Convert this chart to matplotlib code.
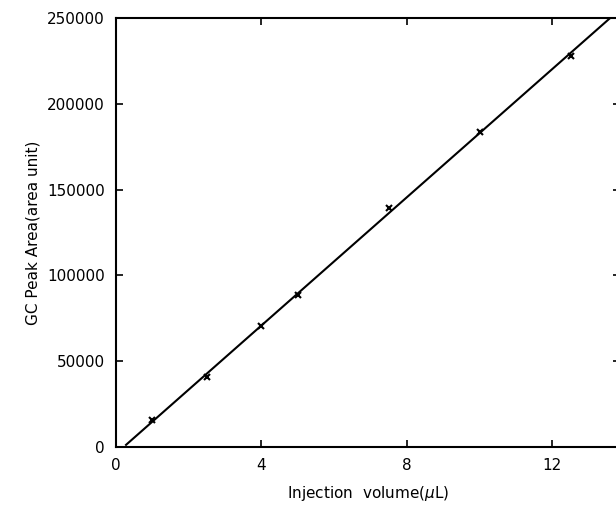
import matplotlib.pyplot as plt
import numpy as np

# injection volume (uL) and GC peak area
volume = [1.0, 2.5, 4.0, 5.0, 7.5, 10.0, 12.5]
peak_area = [15500, 41000, 70500, 88500, 139500, 183500, 228000]

x_ticks = [0, 4, 8, 12]
y_ticks = [0, 50000, 100000, 150000, 200000, 250000]

# least squares calibration line
slope, intercept = np.polyfit(volume, peak_area, 1)
x_fit = np.linspace(0, 14, 200)
y_fit = slope * x_fit + intercept
keep = y_fit >= 0

fig = plt.figure(figsize=(6.16, 5.15), dpi=100)
ax = fig.add_axes([0.188, 0.132, 0.818, 0.833])

ax.plot(x_fit[keep], y_fit[keep], color='k', linewidth=1.5)
ax.plot(volume, peak_area, linestyle='none', marker='x', color='k',
        markersize=4, markeredgewidth=1.5)

ax.set_xlim(0, 13.85)
ax.set_ylim(0, 250000)
ax.set_xticks(x_ticks)
ax.set_yticks(y_ticks)
ax.set_xticklabels([str(t) for t in x_ticks], fontsize=11)
ax.set_yticklabels([str(t) for t in y_ticks], fontsize=11)
ax.tick_params(direction='in', length=5, width=1.2, top=True, right=True, pad=8)

for s in ax.spines.values():
    s.set_linewidth(1.5)

ax.set_xlabel(r'Injection  volume($\mathit{\mu}$L)', fontsize=11, labelpad=8)
ax.set_ylabel('GC Peak Area(area unit)', fontsize=11, labelpad=5)

fig.savefig('out.png', dpi=100)
